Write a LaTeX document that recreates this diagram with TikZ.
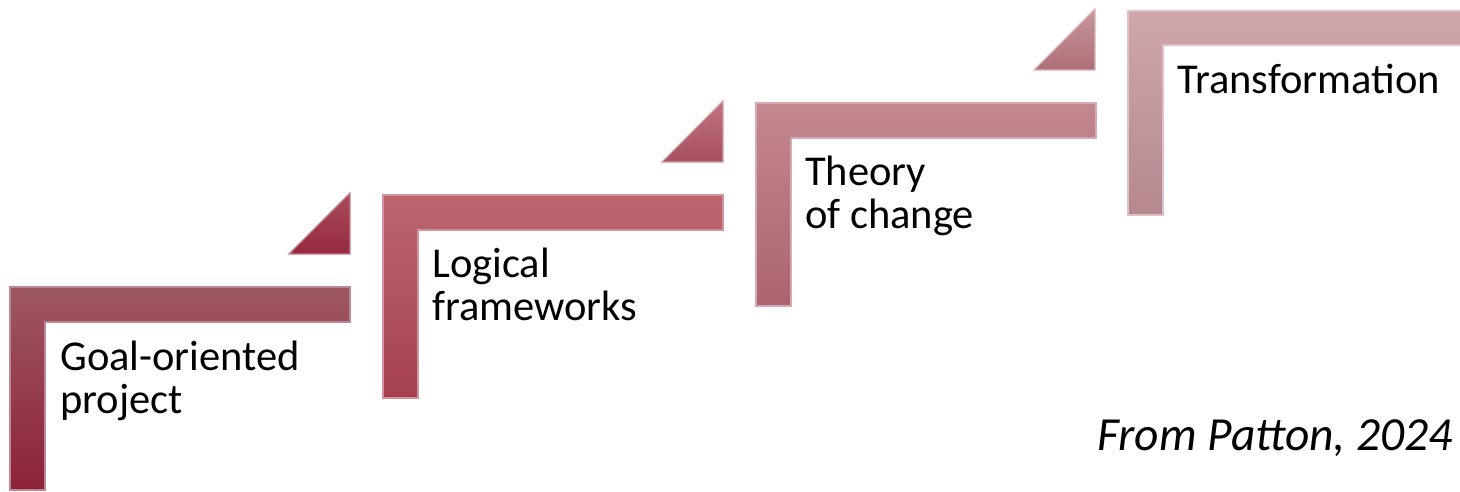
\documentclass[tikz,border=0pt]{standalone}
\usepackage{fontspec}
\setmainfont{Carlito}
\definecolor{aT}{HTML}{9E5760}\definecolor{aM}{HTML}{A53C4E}\definecolor{aB}{HTML}{8C2339}
\definecolor{bT}{HTML}{BB6770}\definecolor{bM}{HTML}{B94C5C}\definecolor{bB}{HTML}{A6404F}
\definecolor{cT}{HTML}{C3878F}\definecolor{cM}{HTML}{BF7780}\definecolor{cB}{HTML}{AC646F}
\definecolor{dT}{HTML}{CFA6AB}\definecolor{dM}{HTML}{C89BA0}\definecolor{dB}{HTML}{B58890}
\definecolor{tA1}{HTML}{A84B5A}\definecolor{tA2}{HTML}{962A3F}
\definecolor{tB1}{HTML}{BE737C}\definecolor{tB2}{HTML}{A8505E}
\definecolor{tC1}{HTML}{C8959B}\definecolor{tC2}{HTML}{AE6F79}
\tikzset{
  lbl/.style={anchor=base west,inner sep=0pt,font=\fontsize{42.5}{43}\selectfont,align=left},
  cite/.style={anchor=base east,inner sep=0pt,font=\fontsize{47.5}{48}\selectfont\itshape},
}
\newcommand{\stepL}[5]{% x y top mid bottom
  \shade[top color=#3,middle color=#4,bottom color=#5,draw=#3!70!white,line width=1.2pt]
    (#1,#2) -- ++(340,0) -- ++(0,35) -- ++(-305,0) -- ++(0,168) -- ++(-35,0) -- cycle;}
\newcommand{\stepT}[4]{% right x, top y, top col, bottom col
  \shade[top color=#3,bottom color=#4,draw=#3!70!white,line width=1.2pt]
    (#1,#2) -- ++(0,61) -- ++(-61,0) -- cycle;}
\begin{document}
\begin{tikzpicture}[x=1pt,y=-1pt]
\useasboundingbox (0,0) rectangle (1460,491);
% L-shapes
\stepL{10}{287}{aT}{aM}{aB}
\stepL{383}{195}{bT}{bM}{bB}
\stepL{756}{103}{cT}{cM}{cB}
\shade[top color=dT,middle color=dM,bottom color=dB,draw=dT!70!white,line width=1.2pt]
  (1128,11) -- (1464,11) -- (1464,45) -- (1163,45) -- (1163,215) -- (1128,215) -- cycle;
% triangles
\stepT{350}{193}{tA1}{tA2}
\stepT{723}{101}{tB1}{tB2}
\stepT{1095}{9}{tC1}{tC2}
% labels (base anchor = last line)
\node[lbl] (goal) at (60,413) {Goal-oriented\\project};
\node[lbl] (logic) at (432,320) {Logical\\frameworks};
\node[lbl] (theory) at (805,228) {Theory\\of change};
\node[lbl] (trans) at (1177,93) {Transformation};
\node[cite] (src) at (1453,450) {From Patton, 2024};
\end{tikzpicture}
\end{document}
